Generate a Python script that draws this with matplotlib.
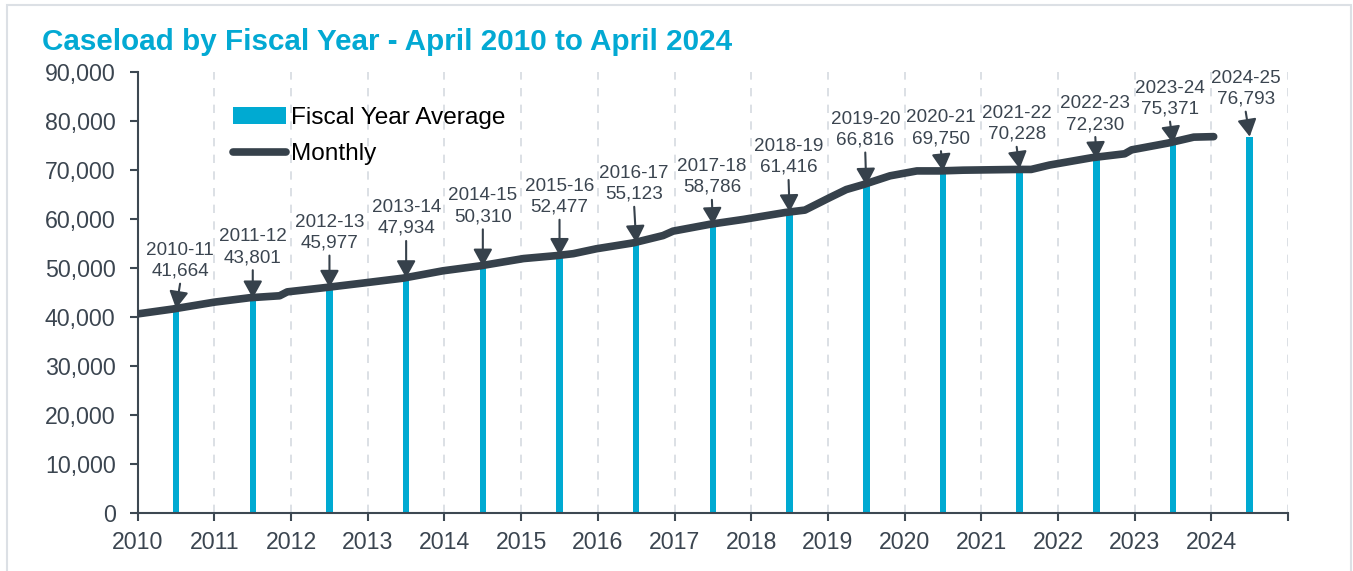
import numpy as np
import matplotlib
matplotlib.use("Agg")
import matplotlib.pyplot as plt
from matplotlib.patches import Rectangle
from matplotlib.ticker import FuncFormatter

plt.rcParams['font.family'] = ['Liberation Sans', 'DejaVu Sans']

# fiscal year averages (bar placed mid fiscal year)
fy_labels = ["2010-11", "2011-12", "2012-13", "2013-14", "2014-15", "2015-16",
             "2016-17", "2017-18", "2018-19", "2019-20", "2020-21", "2021-22",
             "2022-23", "2023-24", "2024-25"]
fy_start = np.arange(2010, 2025)
fy_avg = [41664, 43801, 45977, 47934, 50310, 52477, 55123, 58786, 61416,
          66816, 69750, 70228, 72230, 75371, 76793]

# monthly caseload (x = fiscal time, April 2010 = 2010.0)
monthly_x = [2010.00, 2010.46, 2011.00, 2011.46, 2011.85, 2011.95, 2012.46,
             2012.94, 2013.46, 2013.98, 2014.46, 2015.03, 2015.46, 2015.68,
             2015.98, 2016.46, 2016.85, 2016.98, 2017.46, 2017.90, 2018.44,
             2018.70, 2019.03, 2019.24, 2019.46, 2019.81, 2020.16, 2020.46,
             2020.76, 2021.46, 2021.65, 2021.89, 2022.44, 2022.87, 2022.96,
             2023.44, 2023.77, 2024.03]
monthly_y = [40600, 41600, 43000, 43900, 44300, 45100, 46000,
             46900, 47900, 49400, 50400, 51900, 52500, 52900,
             53900, 55100, 56600, 57500, 58900, 59900, 61300,
             61800, 64400, 66000, 67000, 68800, 69800, 69800,
             69950, 70100, 70100, 71000, 72500, 73300, 74100,
             75500, 76700, 76800]

# label layout (pixels): arrow length and horizontal shift of the text
arrow_len = [25, 28, 32, 37, 37, 36, 36, 25, 32, 33, 20, 22, 22, 22, 25]
text_dx = [4, 0, 0, 0, 0, 0, -2, -1, -1, -1, -2, -3, -1, -3, -4]

BAR = '#00AAD2'
LINE = '#36414B'
TXT = '#3B4550'

fig = plt.figure(figsize=(13.53, 5.71), dpi=100)
ax = fig.add_axes([0.1018, 0.1021, 0.8502, 0.7718])

bars = ax.bar(fy_start + 0.5, fy_avg, width=0.085, color=BAR, zorder=2)
line, = ax.plot(monthly_x, monthly_y, color=LINE, lw=5.5, solid_capstyle='round',
                solid_joinstyle='round', zorder=3)

for i in range(len(fy_labels)):
    x = fy_start[i] + 0.5
    ax.annotate('', xy=(x, fy_avg[i]), xytext=(text_dx[i], arrow_len[i]),
                textcoords='offset pixels',
                arrowprops=dict(arrowstyle='-|>,head_length=1.05,head_width=0.58',
                                mutation_scale=10, color=LINE, lw=1.5,
                                shrinkA=0, shrinkB=0), zorder=4)
    ax.annotate(f"{fy_labels[i]}\n{fy_avg[i]:,}", xy=(x, fy_avg[i]),
                xytext=(text_dx[i], arrow_len[i] + 4), textcoords='offset pixels',
                ha='center', va='bottom', fontsize=13.6, color=TXT,
                linespacing=1.3, zorder=5)

ax.set_xlim(2010, 2025)
ax.set_ylim(0, 90000)
ax.set_xticks(np.arange(2010, 2026))
ax.set_xticklabels([str(y) for y in range(2010, 2025)] + [''])
ax.set_yticks(np.arange(0, 90001, 10000))
ax.yaxis.set_major_formatter(FuncFormatter(lambda v, p: f"{int(v):,}"))

for y in range(2011, 2026):
    ax.axvline(y, color='#D5DAE0', lw=1.2, ls=(0, (5, 5)), zorder=1)

for s in ['top', 'right']:
    ax.spines[s].set_visible(False)
for s in ['left', 'bottom']:
    ax.spines[s].set_color('#3D4852')
    ax.spines[s].set_linewidth(1.5)
ax.tick_params(axis='both', colors='#3D4852', width=1.5, length=6, labelsize=16.7,
               labelcolor=TXT)
ax.tick_params(axis='y', pad=10)
ax.tick_params(axis='x', pad=7)

leg = ax.legend([bars, line], ['Fiscal Year Average', 'Monthly'],
                loc='upper left', bbox_to_anchor=(0.0829, 0.921), frameon=False,
                fontsize=17.6, handlelength=2.15, handletextpad=0.2, borderpad=0,
                borderaxespad=0, labelspacing=0.58)
for t in leg.get_texts():
    t.set_color('black')

fig.text(42 / 1353, 1 - 42 / 571, 'Caseload by Fiscal Year - April 2010 to April 2024',
         fontsize=21.3, fontweight='bold', color='#03A9D3', ha='left', va='center')

fig.patches.append(Rectangle((7 / 1353, -0.02), (1351 - 7) / 1353, 1.02 - 5 / 571,
                             transform=fig.transFigure, fill=False,
                             edgecolor='#DCE0E5', lw=1.5))

fig.savefig('out.png', dpi=100)
